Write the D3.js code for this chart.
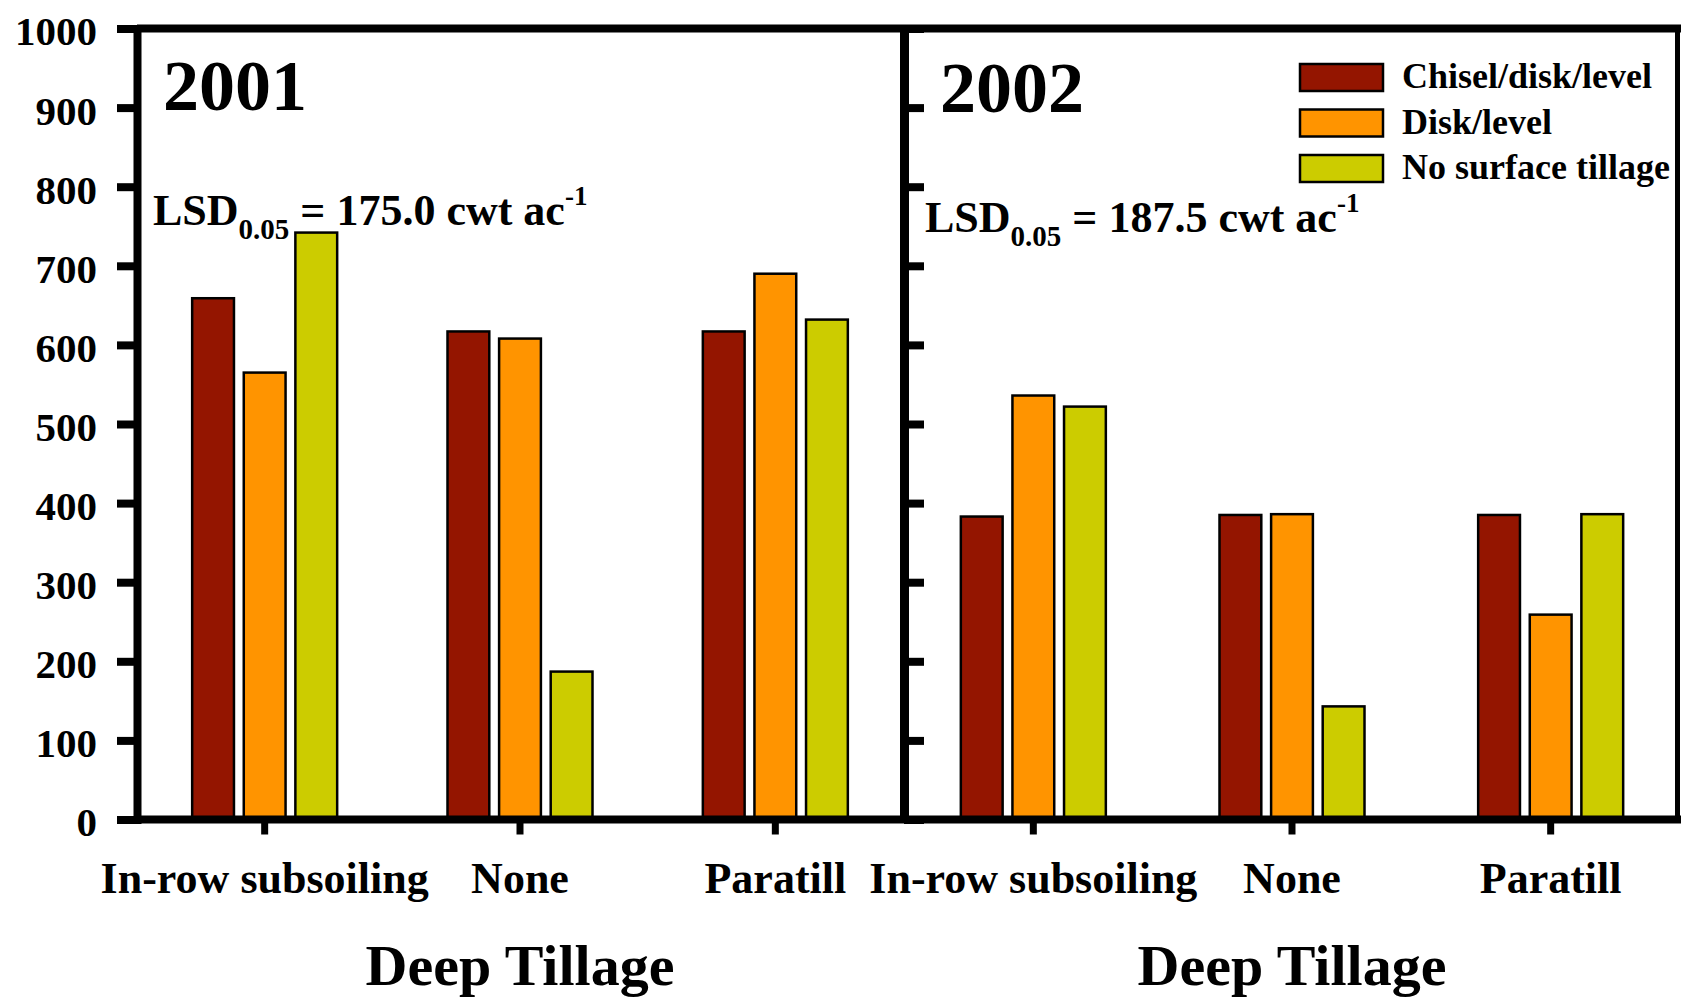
<!DOCTYPE html>
<html>
<head>
<meta charset="utf-8">
<script src="https://cdn.jsdelivr.net/npm/d3@7"></script>
<style>
  body { margin: 0; background: #fff; }
  svg text { font-family: "Liberation Serif", "Times New Roman", serif; font-weight: bold; fill: #000; }
</style>
</head>
<body>
<div class="chart"></div>
<script>
// values (cwt/ac)
var categories = ["In-row subsoiling", "None", "Paratill"];
var series = ["Chisel/disk/level", "Disk/level", "No surface tillage"];

var chisel2001 = [659, 617, 617];
var disk2001 = [565, 608, 690];
var noTill2001 = [742, 187, 632];

var chisel2002 = [383, 385, 385];
var disk2002 = [536, 386, 259];
var noTill2002 = [522, 143, 386];

var yTicks = [0, 100, 200, 300, 400, 500, 600, 700, 800, 900, 1000];

var width = 1681,
    height = 1000;

var svg = d3.select(".chart").append("svg")
    .attr("width", width)
    .attr("height", height);

var y = d3.scaleLinear().domain([0, 1000]).range([819.5, 28.5]);

var color = d3.scaleOrdinal()
    .domain(series)
    .range(["#941500", "#ff9400", "#cccc00"]);

// bars inside one group, centred on the category
var x1 = d3.scaleBand().domain(series).range([-72.5, 72.5]).paddingInner(0.19);

var panels = [
  { year: "2001", values: [chisel2001, disk2001, noTill2001], range: [137, 903],
    yearX: 26, yearY: 110, lsd: "175.0", lsdX: 16, lsdY: 225 },
  { year: "2002", values: [chisel2002, disk2002, noTill2002], range: [904, 1680],
    yearX: 36, yearY: 112, lsd: "187.5", lsdX: 21, lsdY: 232 }
];

function drawPanel(p){
  var x0 = d3.scaleBand().domain(categories).range(p.range);
  var g = svg.append("g");

  series.forEach(function(s, i){
    g.selectAll(null)
        .data(p.values[i])
      .enter().append("rect")
        .attr("x", function(d, j){ return x0(categories[j]) + x0.bandwidth() / 2 + x1(s); })
        .attr("y", function(d){ return y(d); })
        .attr("width", x1.bandwidth())
        .attr("height", function(d){ return y(0) - y(d); })
        .attr("fill", color(s))
        .attr("stroke", "#000")
        .attr("stroke-width", 2.5);
  });

  var gx = svg.append("g")
      .attr("transform", "translate(0," + y(0) + ")")
      .call(d3.axisBottom(x0).tickSize(15).tickSizeOuter(0).tickPadding(27));
  gx.select(".domain").remove();
  gx.selectAll(".tick line").attr("stroke", "#000").attr("stroke-width", 7);
  gx.selectAll(".tick text").style("font-size", "44px");

  svg.append("text")
      .attr("x", x0("None") + x0.bandwidth() / 2)
      .attr("y", 985)
      .attr("text-anchor", "middle")
      .style("font-size", "58px")
      .text("Deep Tillage");

  var left = p.range[0];
  svg.append("text")
      .attr("x", left + p.yearX)
      .attr("y", p.yearY)
      .style("font-size", "72px")
      .text(p.year);

  var lsd = svg.append("text")
      .attr("x", left + p.lsdX)
      .attr("y", p.lsdY)
      .style("font-size", "44px");
  lsd.append("tspan").text("LSD");
  lsd.append("tspan").attr("dy", 14).style("font-size", "29px").text("0.05");
  lsd.append("tspan").attr("dy", -14).text(" = " + p.lsd + " cwt ac");
  lsd.append("tspan").attr("dy", -20).style("font-size", "27px").text("-1");
}

panels.forEach(drawPanel);

// left y axis
var gy = svg.append("g")
    .attr("transform", "translate(137,0)")
    .call(d3.axisLeft(y).tickValues(yTicks).tickFormat(d3.format("d")).tickSize(20).tickPadding(20));
gy.select(".domain").attr("stroke", "#000").attr("stroke-width", 8);
gy.selectAll(".tick line").attr("stroke", "#000").attr("stroke-width", 8);
gy.selectAll(".tick text").attr("dy", "0.4em").style("font-size", "41px");

// right panel y axis, ticks inside, no labels
var gy2 = svg.append("g")
    .attr("transform", "translate(904,0)")
    .call(d3.axisRight(y).tickValues(yTicks).tickSize(20).tickSizeOuter(0).tickFormat(""));
gy2.select(".domain").attr("stroke", "#000").attr("stroke-width", 9);
gy2.selectAll(".tick line").attr("stroke", "#000").attr("stroke-width", 8);

// frame lines
svg.append("line")
    .attr("x1", 137).attr("x2", 1681)
    .attr("y1", y(1000)).attr("y2", y(1000))
    .attr("stroke", "#000").attr("stroke-width", 8);
svg.append("line")
    .attr("x1", 137).attr("x2", 1681)
    .attr("y1", y(0)).attr("y2", y(0))
    .attr("stroke", "#000").attr("stroke-width", 8);
svg.append("line")
    .attr("x1", 1677.5).attr("x2", 1677.5)
    .attr("y1", y(1000)).attr("y2", y(0))
    .attr("stroke", "#000").attr("stroke-width", 5);

// legend
var legend = svg.append("g").attr("transform", "translate(1300,64)");
var rows = legend.selectAll("g")
    .data(series)
  .enter().append("g")
    .attr("transform", function(d, i){ return "translate(0," + i * 45.5 + ")"; });
rows.append("rect")
    .attr("width", 83)
    .attr("height", 27)
    .attr("fill", function(d){ return color(d); })
    .attr("stroke", "#000")
    .attr("stroke-width", 2.5);
rows.append("text")
    .attr("x", 102)
    .attr("y", 24)
    .style("font-size", "36px")
    .text(function(d){ return d; });
</script>
</body>
</html>
